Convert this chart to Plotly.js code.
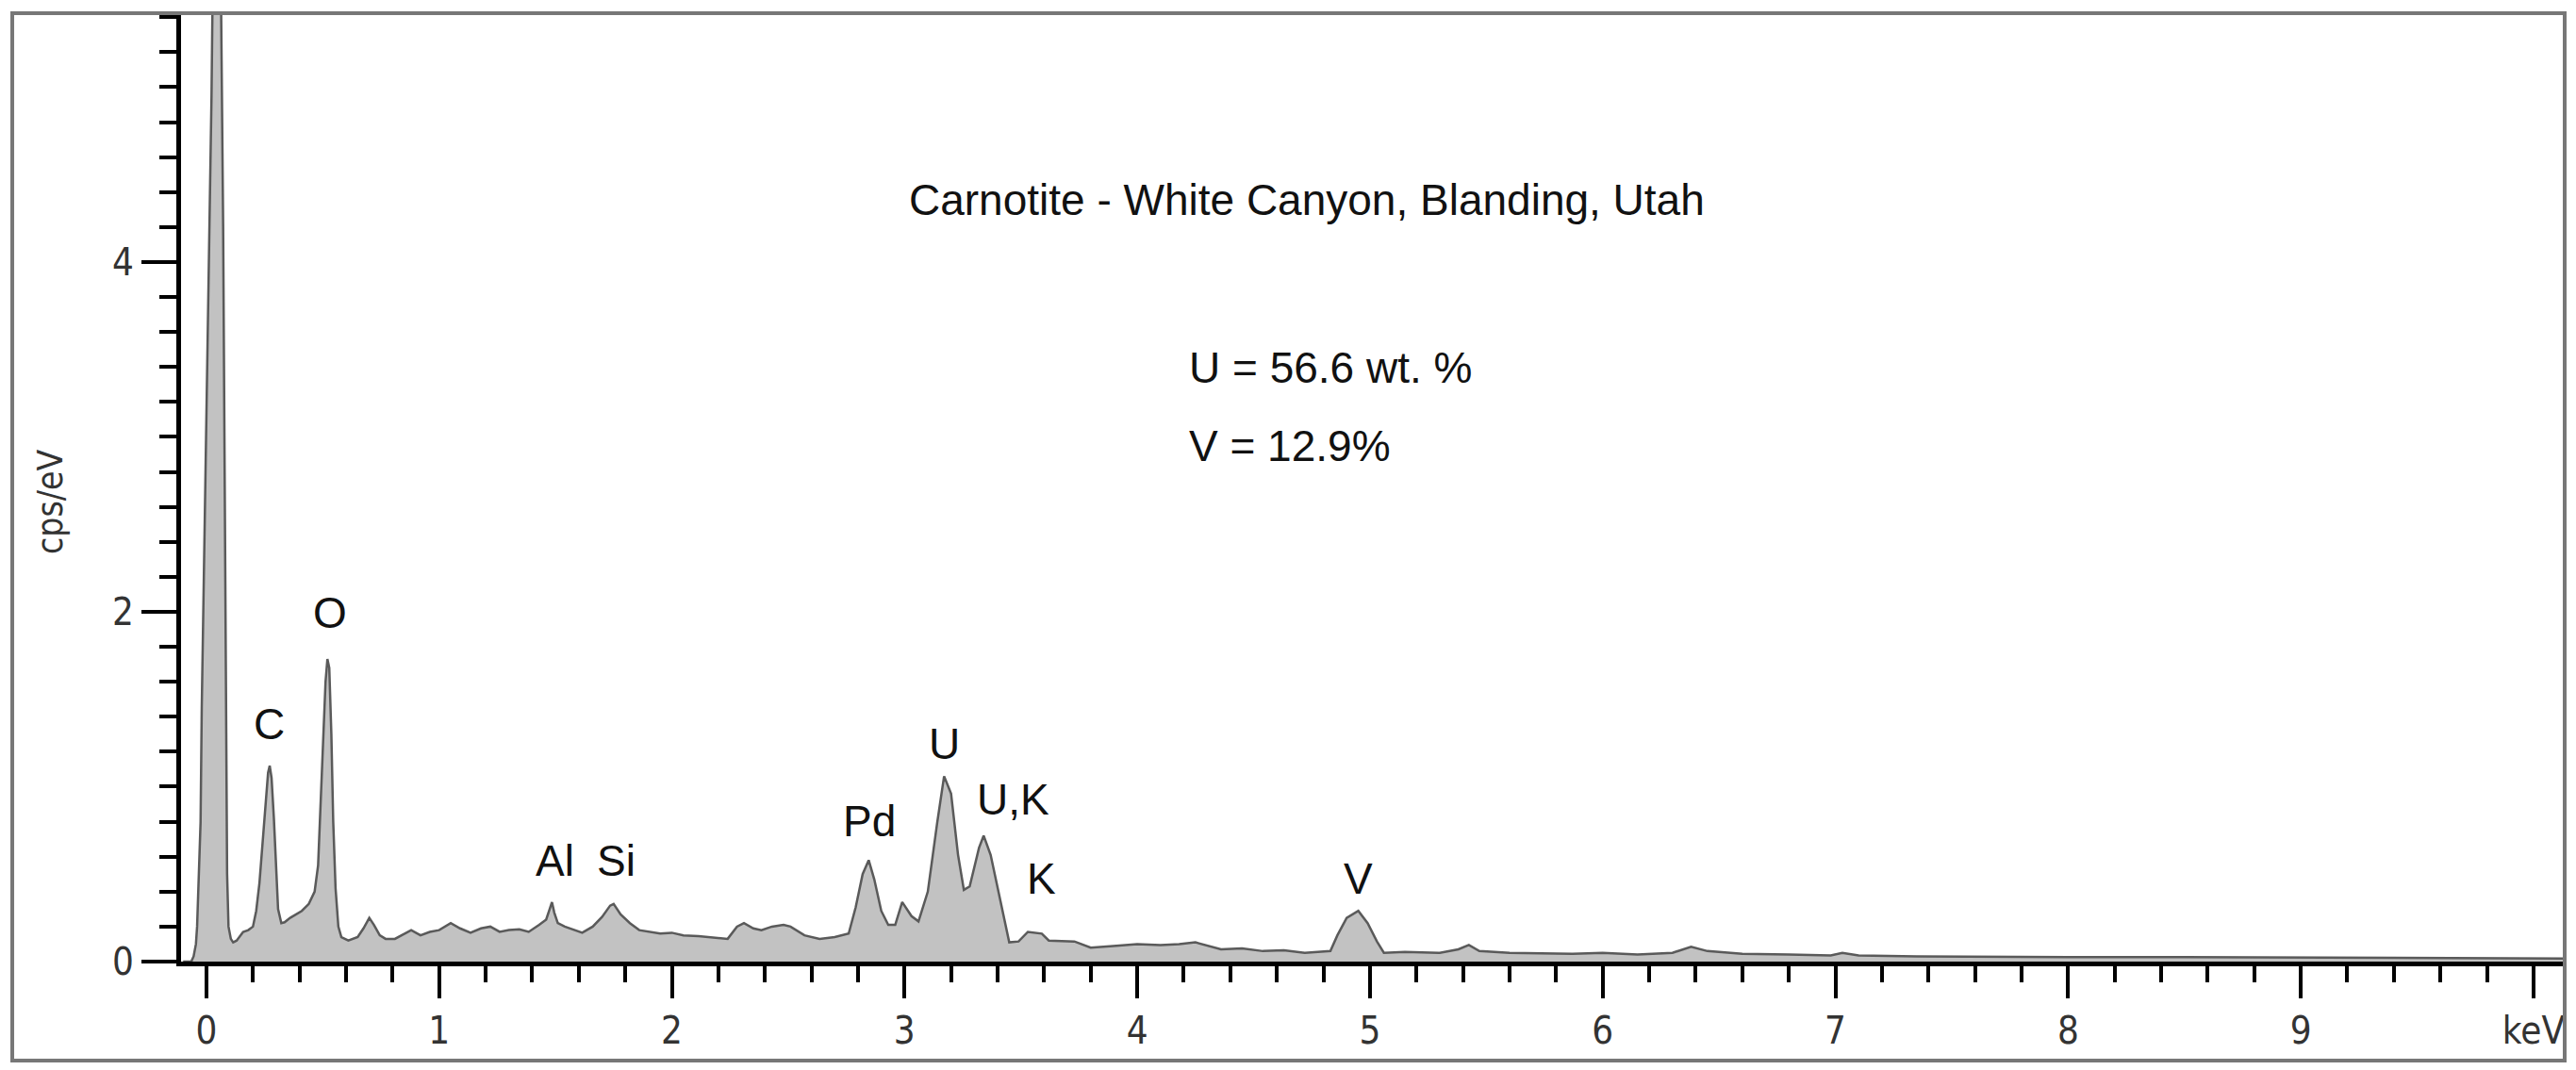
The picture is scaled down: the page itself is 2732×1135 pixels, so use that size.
<!DOCTYPE html>
<html>
<head>
<meta charset="utf-8">
<script src="https://cdn.plot.ly/plotly-3.0.1.min.js"></script>
<style>
  html, body { margin: 0; padding: 0; background: #ffffff; }
  #chart { width: 2732px; height: 1135px; }
</style>
</head>
<body>
<div id="chart"></div>
<script>
// ---- Data ----
const energyKeV = [
  -0.10, -0.065, -0.055, -0.045, -0.04, -0.032, -0.025, -0.02, -0.01, 0.0,
  0.01, 0.022, 0.032, 0.058, 0.072, 0.08, 0.085, 0.089, 0.095, 0.105,
  0.115, 0.13, 0.158, 0.18, 0.2, 0.214, 0.228, 0.24, 0.255, 0.265,
  0.272, 0.28, 0.29, 0.298, 0.308, 0.322, 0.336, 0.36, 0.385, 0.41,
  0.44, 0.465, 0.48, 0.492, 0.503, 0.512, 0.52, 0.528, 0.537, 0.545,
  0.555, 0.567, 0.58, 0.61, 0.65, 0.675, 0.7, 0.72, 0.745, 0.77,
  0.81, 0.85, 0.88, 0.92, 0.96, 1.0, 1.05, 1.09, 1.135, 1.18,
  1.22, 1.26, 1.30, 1.345, 1.385, 1.43, 1.46, 1.475, 1.485, 1.495,
  1.51, 1.54, 1.58, 1.615, 1.66, 1.70, 1.735, 1.75, 1.78, 1.82,
  1.86, 1.90, 1.95, 2.0, 2.05, 2.115, 2.17, 2.24, 2.28, 2.31,
  2.35, 2.385, 2.43, 2.48, 2.51, 2.57, 2.635, 2.70, 2.76, 2.79,
  2.82, 2.846, 2.87, 2.90, 2.93, 2.96, 2.99, 3.03, 3.06, 3.10,
  3.14, 3.17, 3.20, 3.23, 3.255, 3.28, 3.32, 3.34, 3.37, 3.41,
  3.45, 3.49, 3.53, 3.59, 3.62, 3.73, 3.80, 3.91, 4.0, 4.1,
  4.18, 4.25, 4.36, 4.45, 4.54, 4.63, 4.72, 4.83, 4.86, 4.90,
  4.95, 4.99, 5.03, 5.06, 5.15, 5.3, 5.38, 5.425, 5.47, 5.6,
  5.75, 5.87, 6.0, 6.15, 6.3, 6.38, 6.45, 6.6, 6.8, 6.98,
  7.03, 7.1, 7.35, 7.6, 8.0, 8.5, 9.0, 9.5, 10.13
];
const countsCpsPerEV = [
  0, 0, 0.03, 0.10, 0.2, 0.5, 0.8, 1.45, 2.3, 3.2,
  4.1, 4.95, 6.2, 6.2, 4.2, 2.4, 1.2, 0.5, 0.2, 0.13,
  0.11, 0.12, 0.17, 0.18, 0.2, 0.29, 0.45, 0.67, 0.95, 1.08,
  1.12, 1.05, 0.82, 0.55, 0.3, 0.22, 0.225, 0.25, 0.27, 0.29,
  0.33, 0.4, 0.55, 0.95, 1.4, 1.6, 1.73, 1.68, 1.3, 0.8,
  0.42, 0.2, 0.14, 0.12, 0.14, 0.19, 0.25, 0.21, 0.15, 0.13,
  0.13, 0.16, 0.18, 0.15, 0.17, 0.18, 0.22, 0.19, 0.165, 0.19,
  0.2, 0.17, 0.18, 0.185, 0.17, 0.21, 0.24, 0.3, 0.34, 0.28,
  0.22, 0.2, 0.18, 0.165, 0.2, 0.255, 0.32, 0.33, 0.27, 0.22,
  0.18, 0.17, 0.16, 0.165, 0.15, 0.145, 0.14, 0.13, 0.2, 0.22,
  0.19, 0.18, 0.2, 0.21, 0.2, 0.15, 0.13, 0.14, 0.16, 0.31,
  0.5, 0.58, 0.47, 0.29, 0.21, 0.21, 0.34, 0.26, 0.23, 0.4,
  0.79, 1.06, 0.96, 0.61, 0.41, 0.43, 0.65, 0.72, 0.61, 0.36,
  0.11, 0.115, 0.17, 0.16, 0.12, 0.115, 0.08, 0.09, 0.10, 0.095,
  0.10, 0.11, 0.07, 0.075, 0.06, 0.065, 0.05, 0.06, 0.15, 0.25,
  0.29, 0.22, 0.115, 0.05, 0.055, 0.05, 0.07, 0.095, 0.06, 0.05,
  0.045, 0.045, 0.05, 0.04, 0.05, 0.085, 0.06, 0.045, 0.04, 0.035,
  0.05, 0.035, 0.03, 0.03, 0.026, 0.025, 0.022, 0.02, 0.018
];

const xTickVals = [0, 1, 2, 3, 4, 5, 6, 7, 8, 9, 10];
const xTickText = ['0', '1', '2', '3', '4', '5', '6', '7', '8', '9', 'keV'];
const yTickVals = [0, 2, 4];
const yTickText = ['0', '2', '4'];

const peakLabels = ['C', 'O', 'Al', 'Si', 'Pd', 'U', 'U,K', 'K', 'V'];
const peakLabelX = [0.270, 0.532, 1.499, 1.760, 2.847, 3.172, 3.468, 3.588, 4.951];
const peakLabelY = [1.356, 1.995, 0.577, 0.577, 0.803, 1.244, 0.925, 0.474, 0.474];

const titleText = 'Carnotite - White Canyon, Blanding, Utah';
const compositionLines = ['U = 56.6 wt. %', 'V = 12.9%'];
const yAxisTitle = 'cps/eV';

// ---- Styles ----
const tickFont = { family: 'DejaVu Sans Condensed, DejaVu Sans, sans-serif', size: 40, color: '#333333' };
const labelFont = { family: 'Liberation Sans, Arial, sans-serif', size: 46, color: '#111111' };

const trace = {
  type: 'scatter',
  mode: 'lines',
  x: energyKeV,
  y: countsCpsPerEV,
  fill: 'tozeroy',
  fillcolor: '#c2c2c2',
  line: { color: '#5a5a5a', width: 2.5, shape: 'linear' },
  hoverinfo: 'skip'
};

const annotations = [];
for (let i = 0; i < peakLabels.length; i++) {
  annotations.push({
    x: peakLabelX[i], y: peakLabelY[i], xref: 'x', yref: 'y',
    text: peakLabels[i], showarrow: false,
    xanchor: 'center', yanchor: 'middle', font: labelFont
  });
}
annotations.push({
  x: 4.728, y: 4.356, xref: 'x', yref: 'y', text: titleText, showarrow: false,
  xanchor: 'center', yanchor: 'middle', font: labelFont
});
annotations.push({
  x: 4.214, y: 3.396, xref: 'x', yref: 'y', text: compositionLines[0], showarrow: false,
  xanchor: 'left', yanchor: 'middle', font: labelFont
});
annotations.push({
  x: 4.214, y: 2.949, xref: 'x', yref: 'y', text: compositionLines[1], showarrow: false,
  xanchor: 'left', yanchor: 'middle', font: labelFont
});
annotations.push({
  x: -0.055, y: 0.485, xref: 'paper', yref: 'paper', text: yAxisTitle, showarrow: false,
  textangle: -90, xanchor: 'center', yanchor: 'middle',
  font: { family: 'DejaVu Sans Condensed, DejaVu Sans, sans-serif', size: 37, color: '#333333' }
});

const layout = {
  width: 2732,
  height: 1135,
  margin: { l: 192, r: 12, t: 14, b: 115, pad: 0 },
  paper_bgcolor: '#ffffff',
  plot_bgcolor: '#ffffff',
  showlegend: false,
  xaxis: {
    range: [-0.109, 10.134],
    showgrid: false, zeroline: false,
    showline: true, linecolor: '#000000', linewidth: 5,
    ticks: 'outside', ticklen: 34, tickwidth: 4, tickcolor: '#000000',
    tickmode: 'array', tickvals: xTickVals, ticktext: xTickText,
    tickfont: tickFont,
    minor: { tickmode: 'linear', tick0: 0, dtick: 0.2, ticks: 'outside', ticklen: 17, tickwidth: 4, tickcolor: '#000000', showgrid: false }
  },
  yaxis: {
    range: [0, 5.423],
    showgrid: false, zeroline: false,
    showline: true, linecolor: '#000000', linewidth: 5,
    ticks: 'outside', ticklen: 37, tickwidth: 4, tickcolor: '#000000',
    tickmode: 'array', tickvals: yTickVals, ticktext: yTickText,
    tickfont: tickFont,
    minor: { tickmode: 'linear', tick0: 0, dtick: 0.2, ticks: 'outside', ticklen: 18, tickwidth: 4, tickcolor: '#000000', showgrid: false }
  },
  annotations: annotations,
  shapes: [{
    type: 'rect', xref: 'paper', yref: 'paper',
    x0: -0.0708, x1: 1.0, y0: -0.1044, y1: 1.0,
    line: { color: '#777777', width: 4 }, fillcolor: 'rgba(0,0,0,0)', layer: 'above'
  }]
};

Plotly.newPlot('chart', [trace], layout, { displayModeBar: false, staticPlot: true });
</script>
</body>
</html>
